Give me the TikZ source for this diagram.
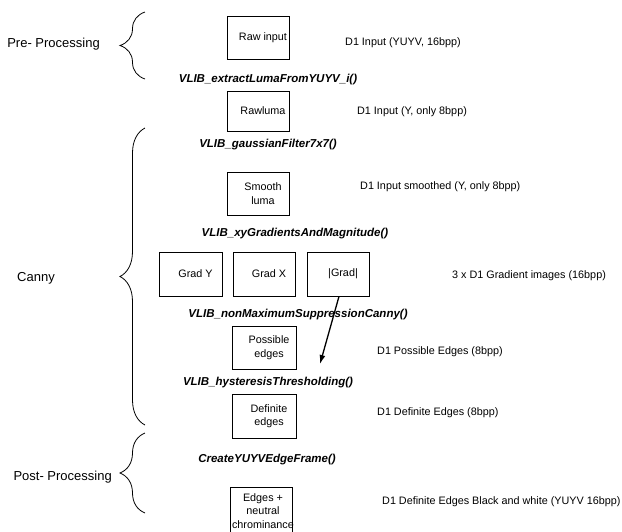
\documentclass[tikz,border=0pt]{standalone}
\usepackage{fontspec}
\setmainfont{Liberation Sans}
\usetikzlibrary{positioning}
\usetikzlibrary{arrows.meta}
\usetikzlibrary{decorations.pathreplacing}

\begin{document}
\begin{tikzpicture}[
		x=1pt, y=-1pt,
		box/.style={draw=black, line width=0.8pt, inner sep=0pt, minimum width=62pt, minimum height=43pt},
		boxlabel/.style={xshift=5pt, align=center, inner sep=0pt, font=\fontsize{10.8}{13.5}\selectfont},
		func/.style={font=\fontsize{11.5}{13}\selectfont\bfseries\itshape},
		info/.style={anchor=west, inner sep=0pt, font=\fontsize{10.8}{13}\selectfont},
		stage/.style={anchor=east, inner sep=0pt, font=\fontsize{13}{15}\selectfont},
		stagebrace/.style={decorate, decoration={brace, amplitude=25pt}, line width=0.8pt}
		]
		\useasboundingbox (0,0) rectangle (622,531);
		
		% Brace x position
		\def\bx{145}
		
		% Stages on the left
		\draw[stagebrace] (\bx,79) -- (\bx,12);
		\node[stage] (pre) at (100,44) {Pre- Processing};
		\draw[stagebrace] (\bx,425) -- (\bx,128);
		\node[stage] (canny) at (55,278) {Canny};
		\draw[stagebrace] (\bx,513) -- (\bx,433);
		\node[stage] (post) at (112,477) {Post- Processing};
		
		% Image boxes
		\node[box, label={[boxlabel]center:Raw input}] (rawin) at (258,37.5) {};
		\node[box, minimum height=40pt, label={[boxlabel]center:Rawluma}] (rawluma) at (258,111) {};
		\node[box, label={[boxlabel]center:Smooth\\luma}] (smooth) at (258,193.5) {};
		\node[box, minimum width=63pt, minimum height=44pt, label={[boxlabel]center:Grad Y}] (grady) at (190.5,274) {};
		\node[box, minimum height=44pt, label={[boxlabel]center:Grad X}] (gradx) at (264,274) {};
		\node[box, minimum height=44pt, label={[boxlabel]center:|Grad|}] (gradmag) at (338,274) {};
		\node[box, minimum width=64pt, label={[boxlabel]center:Possible\\edges}] (possible) at (264,347.5) {};
		\node[box, minimum width=64pt, minimum height=44pt, label={[boxlabel]center:Definite\\edges}] (definite) at (264,416) {};
		\node[box, minimum height=48pt, label={[boxlabel, xshift=-3pt]center:Edges +\\neutral\\chrominance}] (bwframe) at (261,511) {};
		
		% Function calls
		\node[func] (fextract) at (268,80) {VLIB\_extractLumaFromYUYV\_i()};
		\node[func] (fgauss) at (268,145) {VLIB\_gaussianFilter7x7()};
		\node[func] (fgrad) at (295,234) {VLIB\_xyGradientsAndMagnitude()};
		\node[func] (fnms) at (298,315) {VLIB\_nonMaximumSuppressionCanny()};
		\node[func] (fhyst) at (268,383) {VLIB\_hysteresisThresholding()};
		\node[func] (fframe) at (267,460) {CreateYUYVEdgeFrame()};
		
		% Image formats
		\node[info] (irawin) at (345,43) {D1 Input (YUYV, 16bpp)};
		\node[info] (irawluma) at (357,112) {D1 Input (Y, only 8bpp)};
		\node[info] (ismooth) at (360,187) {D1 Input smoothed (Y, only 8bpp)};
		\node[info] (igrad) at (452,276) {3 x D1 Gradient images (16bpp)};
		\node[info] (ipossible) at (377,352) {D1 Possible Edges (8bpp)};
		\node[info] (idefinite) at (377,413) {D1 Definite Edges (8bpp)};
		\node[info] (ibwframe) at (382,502) {D1 Definite Edges Black and white (YUYV 16bpp)};
		
		% Arrow
		\coordinate (arrowend) at (320,364);
		\draw[line width=1.3pt, -{Latex[length=9pt, width=6pt]}] ([xshift=1pt]gradmag.south) -- (arrowend);
		
	\end{tikzpicture}
\end{document}
